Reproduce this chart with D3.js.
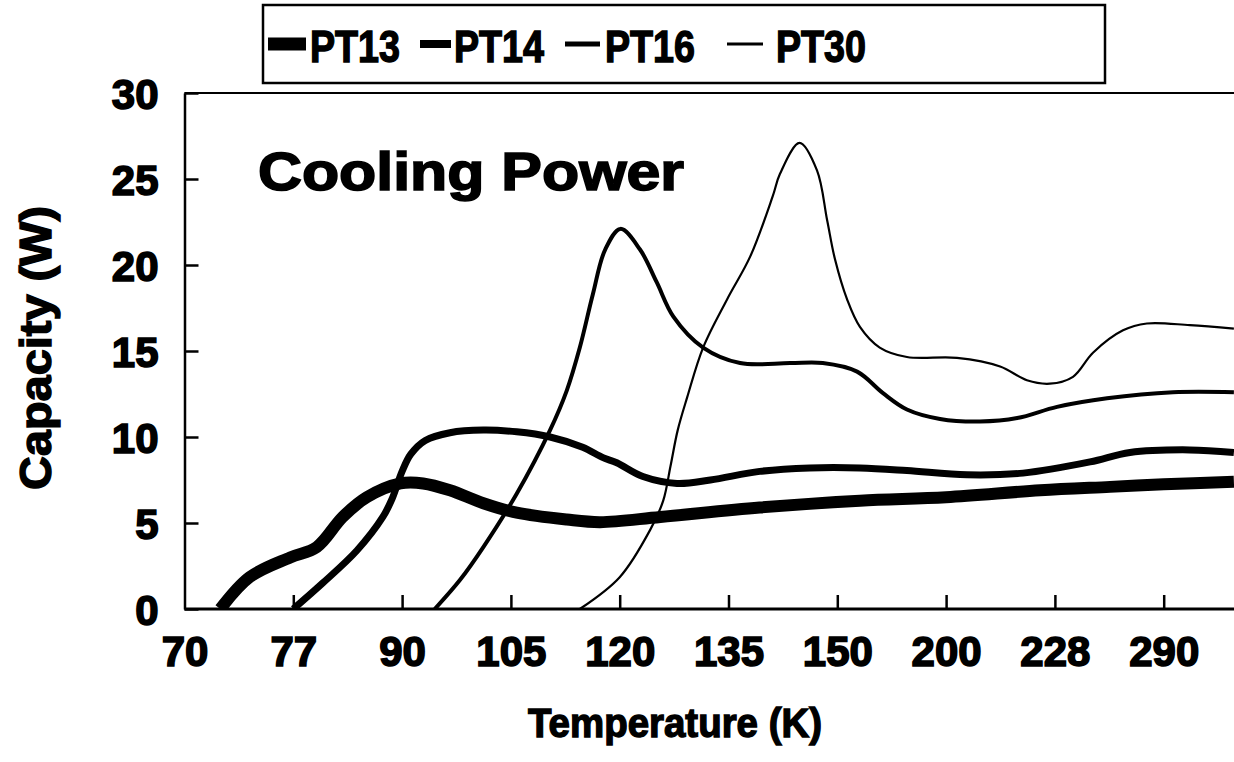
<!DOCTYPE html>
<html>
<head>
<meta charset="utf-8">
<script src="https://cdn.jsdelivr.net/npm/d3@7"></script>
<style>
  body { margin: 0; background: #fff; }
  svg text { font-family: 'Liberation Sans', Arial, sans-serif; font-weight: bold; fill: #000; }
</style>
</head>
<body>
<div id="graph"></div>
<script>
// x categories (equally spaced on the axis)
const temps = [70, 77, 90, 105, 120, 135, 150, 200, 228, 290]
const yTicks = [0, 5, 10, 15, 20, 25, 30]

// [temperature K, capacity W]
const pt13 = [[72.3, 0], [74.2, 1.86], [76.8, 3.0], [79.8, 3.6], [82.9, 5.35], [85.8, 6.5], [89.8, 7.3],
  [92.9, 7.3], [96.6, 6.9], [101.2, 6.15], [105.8, 5.6], [112.7, 5.2], [117.3, 5.05], [125.6, 5.35],
  [139.3, 5.9], [160.4, 6.3], [200, 6.5], [224.2, 6.9], [259.4, 7.1], [290, 7.25], [330, 7.4]]
const pt14 = [[77, 0], [80.5, 1.5], [84.6, 3.4], [87.7, 5.35], [88.8, 6.4], [90.0, 8.0], [91.2, 9.0],
  [93.2, 9.8], [96.6, 10.25], [101.2, 10.4], [105.8, 10.3], [110.4, 10.0], [114.9, 9.4], [117.7, 8.8],
  [119.6, 8.5], [123.2, 7.7], [127.9, 7.3], [132.5, 7.5], [139.3, 8.0], [146.2, 8.2], [160.4, 8.2],
  [182, 8.05], [205.4, 7.8], [219.8, 7.9], [248, 8.55], [270.8, 9.1], [304.9, 9.25], [330, 9.1]]
const pt16 = [[94.5, 0], [98, 1.7], [101.2, 3.6], [105.8, 6.7], [110.4, 10.4], [112.7, 12.7],
  [114.5, 15.2], [116.3, 18.3], [118, 20.9], [120.1, 22.1], [122.8, 20.9], [125.1, 19.0], [127.4, 17.0],
  [131.5, 15.2], [136.6, 14.3], [143.5, 14.3], [148, 14.3], [159.1, 13.8], [171, 12.55], [182, 11.6],
  [197.2, 11.05], [208.7, 10.9], [218.3, 11.1], [229.2, 11.75], [257.7, 12.25], [295.3, 12.6], [330, 12.6]]
const pt30 = [[114.5, 0], [120, 1.85], [124.2, 4.6], [126, 6.3], [127, 8.3], [128, 10.4], [129.3, 12.3],
  [131.5, 15.2], [134.8, 18.0], [138, 20.5], [141.1, 24.0], [142.1, 25.3], [144.8, 27.1], [147.2, 25.5],
  [148.6, 22.6], [149.7, 20.3], [154.5, 18.0], [160.4, 16.4], [169.5, 15.2], [182, 14.65], [202.8, 14.6],
  [213.9, 14.1], [220.8, 13.3], [226.7, 13.1], [238.3, 13.5], [249.7, 14.9], [266.8, 16.2], [280.4, 16.6],
  [304.9, 16.5], [330, 16.3]]

const seriesNames = ['PT13', 'PT14', 'PT16', 'PT30']
const seriesData = [pt13, pt14, pt16, pt30]
const lineWidths = [12, 7, 4, 2.2]

const W = 1234
const H = 762
const margin = { top: 93, left: 184.5, bottom: 153 }
const step = 108.8
const plotBottom = H - margin.bottom

const svg = d3.select('#graph').append('svg')
  .attr('width', W)
  .attr('height', H)

// equally spaced categories, piecewise linear in between
const pos = d3.scalePoint().domain(temps).range([margin.left, margin.left + step * (temps.length - 1)])
const x = d3.scaleLinear().domain(temps).range(temps.map(t => pos(t)))
const y = d3.scaleLinear().domain([0, 30]).range([plotBottom, margin.top])

svg.append('defs').append('clipPath')
  .attr('id', 'clip')
  .append('rect')
  .attr('x', margin.left)
  .attr('y', margin.top - 10)
  .attr('width', W - margin.left)
  .attr('height', plotBottom - margin.top + 10)

// frame top
svg.append('line')
  .attr('x1', margin.left).attr('x2', W)
  .attr('y1', margin.top).attr('y2', margin.top)
  .attr('stroke', '#000').attr('stroke-width', 2)

const xAxis = svg.append('g')
  .attr('transform', `translate(0, ${plotBottom})`)
  .call(d3.axisBottom(x).tickValues(temps).tickFormat(d3.format('d')).tickSize(-14).tickSizeOuter(0).tickPadding(32))
xAxis.select('.domain').attr('d', `M${margin.left},0H${W}`).attr('stroke-width', 3)

const yAxis = svg.append('g')
  .attr('transform', `translate(${margin.left}, 0)`)
  .call(d3.axisLeft(y).tickValues(yTicks).tickSize(-14).tickSizeOuter(0).tickPadding(26))
yAxis.select('.domain').attr('stroke-width', 2.5)

svg.selectAll('.tick line').attr('stroke-width', 2.5)
svg.selectAll('.tick text')
  .style('font-size', '42px')
  .attr('stroke', '#000')
  .attr('stroke-width', 1.6)
xAxis.selectAll('.tick text').attr('dy', '0.6em')
yAxis.selectAll('.tick text').attr('dy', '0.36em')
xAxis.selectAll('.tick').filter(d => d === 70).select('line').remove()

const line = d3.line()
  .x(d => x(d[0]))
  .y(d => y(d[1]))
  .curve(d3.curveCatmullRom.alpha(0.5))

const lines = svg.append('g').attr('clip-path', 'url(#clip)')
seriesData.forEach((data, i) => {
  lines.append('path')
    .datum(data)
    .attr('fill', 'none')
    .attr('stroke', '#000')
    .attr('stroke-width', lineWidths[i])
    .attr('stroke-linejoin', 'round')
    .attr('d', line)
})

// title inside plot
svg.append('text')
  .attr('x', 258)
  .attr('y', 190)
  .attr('textLength', 426)
  .attr('lengthAdjust', 'spacingAndGlyphs')
  .style('font-size', '53px')
  .attr('stroke', '#000').attr('stroke-width', 1.6)
  .text('Cooling Power')

// axis titles
svg.append('text')
  .attr('x', 675)
  .attr('y', 737)
  .attr('text-anchor', 'middle')
  .attr('textLength', 294)
  .attr('lengthAdjust', 'spacingAndGlyphs')
  .style('font-size', '41px')
  .attr('stroke', '#000').attr('stroke-width', 1.4)
  .text('Temperature (K)')

svg.append('text')
  .attr('transform', 'translate(51, 348) rotate(-90)')
  .attr('text-anchor', 'middle')
  .attr('textLength', 284)
  .attr('lengthAdjust', 'spacingAndGlyphs')
  .style('font-size', '45px')
  .attr('stroke', '#000').attr('stroke-width', 1.4)
  .text('Capacity (W)')

// legend
const legend = svg.append('g')
legend.append('rect')
  .attr('x', 263).attr('y', 5)
  .attr('width', 842).attr('height', 78)
  .attr('fill', 'none').attr('stroke', '#000').attr('stroke-width', 2.5)

const legendX = [268, 420, 565, 727]
const swatchW = [38, 31, 35, 36]
const textGap = [4, 3, 5, 13]
seriesNames.forEach((name, i) => {
  const g = legend.append('g').attr('transform', `translate(${legendX[i]}, 44)`)
  g.append('line')
    .attr('x1', 0).attr('x2', swatchW[i])
    .attr('y1', 0).attr('y2', 0)
    .attr('stroke', '#000')
    .attr('stroke-width', lineWidths[i] + 1)
  g.append('text')
    .attr('x', swatchW[i] + textGap[i])
    .attr('y', 18)
    .attr('textLength', 90)
    .attr('lengthAdjust', 'spacingAndGlyphs')
    .style('font-size', '44px')
    .attr('stroke', '#000').attr('stroke-width', 1.4)
    .text(name)
})
</script>
</body>
</html>
